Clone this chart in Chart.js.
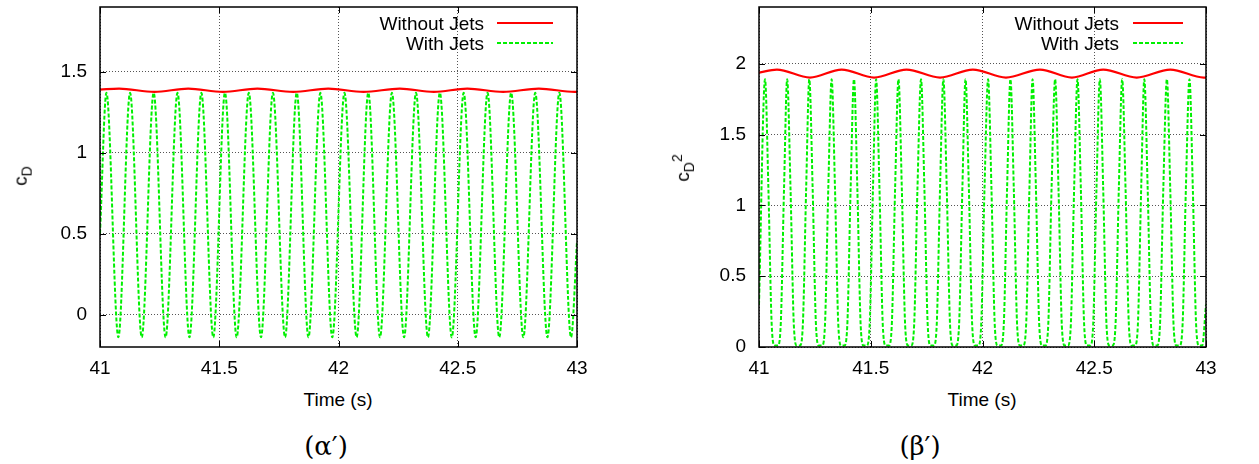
<!DOCTYPE html>
<html>
<head>
<meta charset="utf-8">
<title>Drag coefficient, with and without jets</title>
<script src="https://cdn.jsdelivr.net/npm/chart.js@4.4.1/dist/chart.umd.min.js"></script>
<style>
  body { margin: 0; background: #fff; }
  #page { position: relative; width: 1259px; height: 464px; overflow: hidden;
          font-family: "Liberation Sans", Arial, sans-serif; color: #000; }
  canvas { position: absolute; top: 0; }
  #chartA { left: 0; }
  #chartB { left: 640px; }
  .txt { position: absolute; white-space: nowrap; font-size: 19px; line-height: 1; }
  .center { transform: translate(-50%, -50%); }
  .ylab { transform: translate(-50%, -50%) rotate(-90deg); }
  .ylab sub, .ylab sup { font-size: 14px; }
  .key { position: absolute; white-space: nowrap; font-size: 19px; line-height: 1;
         transform: translateY(-50%); text-align: right; }
  .sample { position: absolute; }
  .caption { position: absolute; white-space: nowrap; line-height: 1;
             font-family: "DejaVu Serif", "Liberation Serif", serif; font-size: 26px;
             transform: translate(-50%, -50%); }
</style>
</head>
<body>
<div id="page">
  <canvas id="chartA" width="620" height="380"></canvas>
  <canvas id="chartB" width="619" height="380"></canvas>

  <div class="txt ylab" style="left:22px; top:176px">c<sub>D</sub></div>
  <div class="txt ylab" style="left:683px; top:168px">c<sub>D</sub><sup>2</sup></div>
  <div class="txt center" style="left:338px; top:399px">Time (s)</div>
  <div class="txt center" style="left:982px; top:399px">Time (s)</div>

  <div class="caption" style="left:326px; top:446px">(α′)</div>
  <div class="caption" style="left:920px; top:446px">(β′)</div>

  <div id="keyA"></div>
  <div id="keyB"></div>
</div>

<script>
// ======================
// DATA
// ======================
const seriesNames = ["Without Jets", "With Jets"];

const xTicks = [41, 41.5, 42, 42.5, 43];
const yTicksCd = [0, 0.5, 1, 1.5];
const yTicksCd2 = [0, 0.5, 1, 1.5, 2];

// without jets (red) - peaks and troughs of the slow wobble
const tNoJets = [41.000, 41.080, 41.228, 41.370, 41.515, 41.660, 41.810, 41.957,
                 42.105, 42.257, 42.400, 42.540, 42.690, 42.840, 42.990, 43.000];
const cdNoJets = [1.390, 1.396, 1.376, 1.396, 1.376, 1.396, 1.376, 1.396,
                  1.376, 1.396, 1.376, 1.396, 1.376, 1.396, 1.376, 1.376];
const cd2NoJets = [1.937, 1.958, 1.902, 1.958, 1.902, 1.958, 1.902, 1.958,
                   1.902, 1.958, 1.902, 1.958, 1.902, 1.958, 1.902, 1.902];

// with jets (green) - c_D, peaks and troughs
const tJets = [41.000,
  41.027, 41.077, 41.126, 41.175, 41.225, 41.275, 41.325, 41.375, 41.425, 41.475,
  41.524, 41.573, 41.624, 41.675, 41.725, 41.776, 41.825, 41.874, 41.924, 41.974,
  42.025, 42.076, 42.125, 42.174, 42.224, 42.275, 42.325, 42.375, 42.425, 42.475,
  42.525, 42.575, 42.625, 42.674, 42.724, 42.775, 42.825, 42.876, 42.926, 42.975,
  43.000];
const cdJets = [0.50,
  1.37, -0.14, 1.37, -0.14, 1.37, -0.14, 1.37, -0.14, 1.37, -0.14,
  1.37, -0.14, 1.37, -0.14, 1.37, -0.14, 1.37, -0.14, 1.37, -0.14,
  1.37, -0.14, 1.37, -0.14, 1.37, -0.14, 1.37, -0.14, 1.37, -0.14,
  1.37, -0.14, 1.37, -0.14, 1.37, -0.14, 1.37, -0.14, 1.37, -0.14,
  0.45];

// with jets (green) - c_D^2, sharper peaks and short flat bottoms
const tJets2 = [41.000,
  41.027, 41.042, 41.057, 41.070, 41.084, 41.097, 41.112,
  41.126, 41.141, 41.156, 41.169, 41.183, 41.196, 41.211,
  41.225, 41.240, 41.255, 41.268, 41.282, 41.295, 41.310,
  41.325, 41.340, 41.355, 41.368, 41.382, 41.395, 41.410,
  41.425, 41.440, 41.455, 41.468, 41.482, 41.495, 41.510,
  41.524, 41.539, 41.554, 41.567, 41.581, 41.594, 41.609,
  41.624, 41.639, 41.654, 41.667, 41.681, 41.694, 41.709,
  41.725, 41.740, 41.755, 41.768, 41.782, 41.795, 41.810,
  41.825, 41.840, 41.855, 41.868, 41.882, 41.895, 41.910,
  41.924, 41.939, 41.954, 41.967, 41.981, 41.994, 42.009,
  42.025, 42.040, 42.055, 42.068, 42.082, 42.095, 42.110,
  42.125, 42.140, 42.155, 42.168, 42.182, 42.195, 42.210,
  42.224, 42.239, 42.254, 42.267, 42.281, 42.294, 42.309,
  42.325, 42.340, 42.355, 42.368, 42.382, 42.395, 42.410,
  42.425, 42.440, 42.455, 42.468, 42.482, 42.495, 42.510,
  42.525, 42.540, 42.555, 42.568, 42.582, 42.595, 42.610,
  42.625, 42.640, 42.655, 42.668, 42.682, 42.695, 42.710,
  42.724, 42.739, 42.754, 42.767, 42.781, 42.794, 42.809,
  42.825, 42.840, 42.855, 42.868, 42.882, 42.895, 42.910,
  42.926, 42.941, 42.956, 42.969, 42.983,
  43.000];
const cd2Jets = [0.30,
  1.89, 1.12, 0.15, 0.01, 0.01, 0.15, 1.12,
  1.89, 1.12, 0.15, 0.01, 0.01, 0.15, 1.12,
  1.89, 1.12, 0.15, 0.01, 0.01, 0.15, 1.12,
  1.89, 1.12, 0.15, 0.01, 0.01, 0.15, 1.12,
  1.89, 1.12, 0.15, 0.01, 0.01, 0.15, 1.12,
  1.89, 1.12, 0.15, 0.01, 0.01, 0.15, 1.12,
  1.89, 1.12, 0.15, 0.01, 0.01, 0.15, 1.12,
  1.89, 1.12, 0.15, 0.01, 0.01, 0.15, 1.12,
  1.89, 1.12, 0.15, 0.01, 0.01, 0.15, 1.12,
  1.89, 1.12, 0.15, 0.01, 0.01, 0.15, 1.12,
  1.89, 1.12, 0.15, 0.01, 0.01, 0.15, 1.12,
  1.89, 1.12, 0.15, 0.01, 0.01, 0.15, 1.12,
  1.89, 1.12, 0.15, 0.01, 0.01, 0.15, 1.12,
  1.89, 1.12, 0.15, 0.01, 0.01, 0.15, 1.12,
  1.89, 1.12, 0.15, 0.01, 0.01, 0.15, 1.12,
  1.89, 1.12, 0.15, 0.01, 0.01, 0.15, 1.12,
  1.89, 1.12, 0.15, 0.01, 0.01, 0.15, 1.12,
  1.89, 1.12, 0.15, 0.01, 0.01, 0.15, 1.12,
  1.89, 1.12, 0.15, 0.01, 0.01, 0.15, 1.12,
  1.89, 1.12, 0.15, 0.01, 0.01,
  0.30];

// ======================
// STYLE
// ======================
const RED = "#ff0000";
const GREEN = "#00f000";
const FONT = { family: "'Liberation Sans', Arial, sans-serif", size: 19 };

function pts(xs, ys) {
  return xs.map((x, i) => ({ x: x, y: ys[i] }));
}

// frame round the plot + small inward tics on all four sides
const framePlugin = {
  id: "frame",
  afterDraw(chart) {
    const { ctx, chartArea: a, scales } = chart;
    const x = scales.x, y = scales.y;
    const len = 6;
    ctx.save();
    ctx.strokeStyle = "#000";
    ctx.lineWidth = 1;
    ctx.setLineDash([]);
    ctx.beginPath();
    x.ticks.forEach(t => {
      let px = Math.round(x.getPixelForValue(t.value)) + 0.5;
      ctx.moveTo(px, a.bottom); ctx.lineTo(px, a.bottom - len);
      ctx.moveTo(px, a.top); ctx.lineTo(px, a.top + len);
    });
    y.ticks.forEach(t => {
      let py = Math.round(y.getPixelForValue(t.value)) + 0.5;
      ctx.moveTo(a.left, py); ctx.lineTo(a.left + len, py);
      ctx.moveTo(a.right, py); ctx.lineTo(a.right - len, py);
    });
    ctx.stroke();
    ctx.lineWidth = 1.5;
    ctx.strokeRect(a.left, a.top, a.width, a.height);
    ctx.restore();
  }
};

// ======================
// CHART
// ======================
function makeChart(id, red, green, yMin, yMax, yTicks, yWidth, padRight) {
  return new Chart(document.getElementById(id), {
    type: "line",
    data: {
      datasets: [
        {
          label: seriesNames[0],
          data: red,
          borderColor: RED,
          borderWidth: 2.2,
          pointRadius: 0,
          cubicInterpolationMode: "monotone"
        },
        {
          label: seriesNames[1],
          data: green,
          borderColor: GREEN,
          borderWidth: 2,
          borderDash: [4, 2],
          pointRadius: 0,
          cubicInterpolationMode: "monotone"
        }
      ]
    },
    options: {
      responsive: false,
      animation: false,
      devicePixelRatio: 1,
      layout: { padding: { top: 7, right: padRight, left: 0, bottom: 0 } },
      plugins: { legend: { display: false }, tooltip: { enabled: false } },
      scales: {
        x: {
          type: "linear",
          min: 41,
          max: 43,
          afterBuildTicks: s => { s.ticks = xTicks.map(v => ({ value: v })); },
          afterFit: s => { s.height = 33; s.paddingLeft = 0; s.paddingRight = 0; },
          ticks: { font: FONT, color: "#000", padding: 10, maxRotation: 0, callback: v => String(v) },
          grid: { color: "#555", lineWidth: 1, drawTicks: false },
          border: { display: false, dash: [1, 2] }
        },
        y: {
          min: yMin,
          max: yMax,
          afterBuildTicks: s => { s.ticks = yTicks.map(v => ({ value: v })); },
          afterFit: s => { s.width = yWidth; s.paddingTop = 0; s.paddingBottom = 0; },
          ticks: { font: FONT, color: "#000", padding: 13, callback: v => String(v) },
          grid: { color: "#555", lineWidth: 1, drawTicks: false },
          border: { display: false, dash: [1, 2] }
        }
      }
    },
    plugins: [framePlugin]
  });
}

makeChart("chartA", pts(tNoJets, cdNoJets), pts(tJets, cdJets), -0.2, 1.9, yTicksCd, 100, 43);
makeChart("chartB", pts(tNoJets, cd2NoJets), pts(tJets2, cd2Jets), 0, 2.4, yTicksCd2, 119, 53);

// ======================
// KEY (text first, then line sample)
// ======================
function drawKey(boxId, textRight, lineLeft, lineLen) {
  let box = document.getElementById(boxId);
  let rows = [
    { name: seriesNames[0], y: 23, color: RED, dash: "" },
    { name: seriesNames[1], y: 43, color: GREEN, dash: "4,2" }
  ];
  rows.forEach(r => {
    box.innerHTML += `
      <div class="key" style="right:${1259 - textRight}px; top:${r.y}px">${r.name}</div>
      <svg class="sample" style="left:${lineLeft}px; top:${r.y - 2}px" width="${lineLen}" height="4">
        <line x1="0" y1="2" x2="${lineLen}" y2="2" stroke="${r.color}" stroke-width="2"
              stroke-dasharray="${r.dash}"/>
      </svg>
    `;
  });
}

drawKey("keyA", 484, 497, 56);
drawKey("keyB", 1119, 1133, 50);
</script>
</body>
</html>
